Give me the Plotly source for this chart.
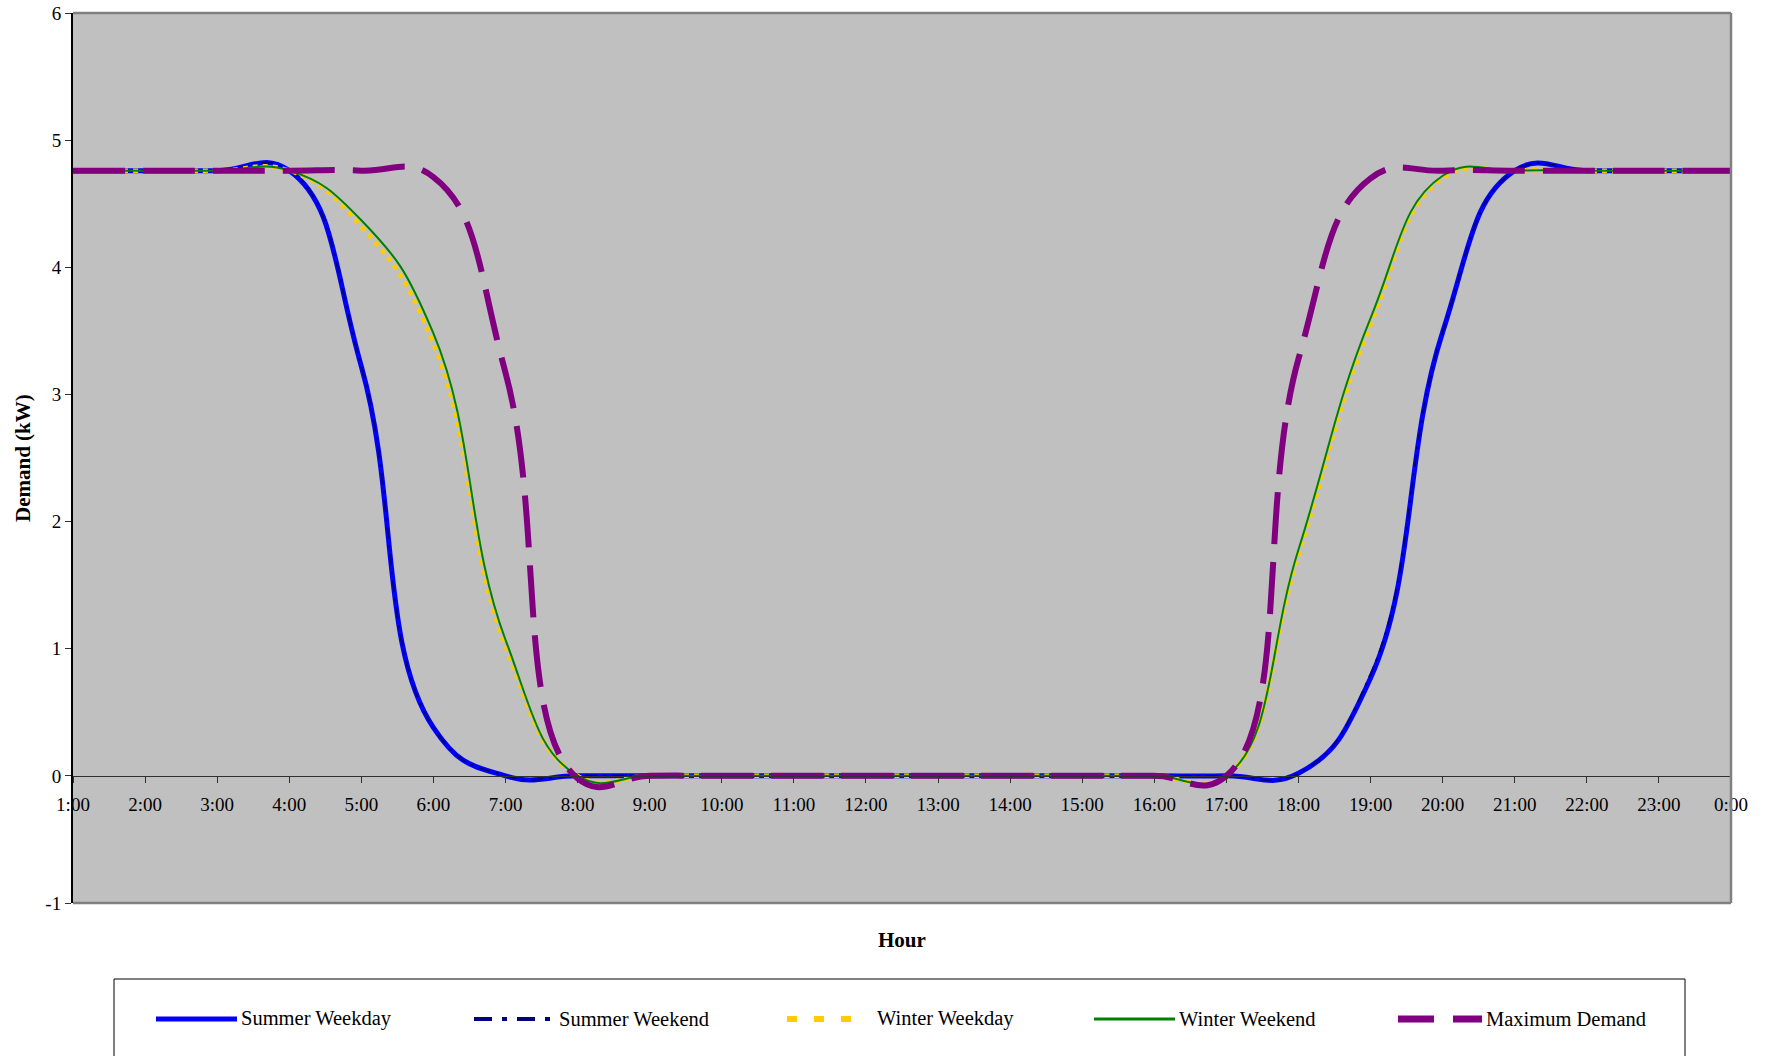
import plotly.graph_objects as go

# Hourly demand profiles (kW), one value per hour from 1:00 to 0:00
hours = ["1:00", "2:00", "3:00", "4:00", "5:00", "6:00", "7:00", "8:00",
         "9:00", "10:00", "11:00", "12:00", "13:00", "14:00", "15:00", "16:00",
         "17:00", "18:00", "19:00", "20:00", "21:00", "22:00", "23:00", "0:00"]

summer_weekday = [4.76, 4.76, 4.76, 4.76, 3.22, 0.38, 0.00, 0.00,
                  0.00, 0.00, 0.00, 0.00, 0.00, 0.00, 0.00, 0.00,
                  0.00, 0.02, 0.77, 3.49, 4.76, 4.76, 4.76, 4.76]

summer_weekend = [4.76, 4.76, 4.76, 4.76, 3.22, 0.38, 0.00, 0.00,
                  0.00, 0.00, 0.00, 0.00, 0.00, 0.00, 0.00, 0.00,
                  0.00, 0.02, 0.80, 3.49, 4.76, 4.76, 4.76, 4.76]

winter_weekday = [4.76, 4.76, 4.76, 4.76, 4.32, 3.40, 1.02, 0.00,
                  0.00, 0.00, 0.00, 0.00, 0.00, 0.00, 0.00, 0.00,
                  0.00, 1.74, 3.55, 4.70, 4.76, 4.76, 4.76, 4.76]

winter_weekend = [4.76, 4.76, 4.76, 4.76, 4.37, 3.48, 1.07, 0.00,
                  0.00, 0.00, 0.00, 0.00, 0.00, 0.00, 0.00, 0.00,
                  0.00, 1.78, 3.60, 4.72, 4.76, 4.76, 4.76, 4.76]

maximum_demand = [4.76, 4.76, 4.76, 4.76, 4.76, 4.71, 3.17, -0.02,
                  0.00, 0.00, 0.00, 0.00, 0.00, 0.00, 0.00, 0.00,
                  0.00, 3.28, 4.70, 4.76, 4.76, 4.76, 4.76, 4.76]

series_names = ["Summer Weekday", "Summer Weekend", "Winter Weekday",
                "Winter Weekend", "Maximum Demand"]
series_values = [summer_weekday, summer_weekend, winter_weekday,
                 winter_weekend, maximum_demand]

y_ticks = [-1, 0, 1, 2, 3, 4, 5, 6]
y_tick_labels = ["-1", "0", "1", "2", "3", "4", "5", "6"]

# Line styling per series: (colour, width, dash in plot, legend width, legend dash)
styles = [
    ("#0000FF", 5, "solid", 5, "solid"),
    ("#000080", 2, "12px,6px,3px,6px", 4, "18px,10px,5px,10px"),
    ("#FFCC00", 4.5, "5px,5px", 6, "10px,17px"),
    ("#008000", 2, "solid", 3, "solid"),
    ("#800080", 6, "52px,18px", 7, "36px,19px"),
]

FONT = "Liberation Serif"
W, H = 1771, 1056
ML, MR, MT, MB = 73, 40, 13, 153
PW, PH = W - ML - MR, H - MT - MB


def px_x(p):
    return (p - ML) / PW


def px_y(p):
    return (H - MB - p) / PH


fig = go.Figure()

for name, vals, (col, wid, dash, _, _) in zip(series_names, series_values, styles):
    fig.add_trace(go.Scatter(
        x=hours, y=vals, name=name, mode="lines",
        line=dict(color=col, width=wid, dash=dash, shape="spline", smoothing=1.3),
        showlegend=False, hoverinfo="skip",
    ))

ymin, ymax = y_ticks[0], y_ticks[-1]
x_axis_pos = (0 - ymin) / (ymax - ymin)

fig.update_layout(
    width=W, height=H,
    margin=dict(l=ML, r=MR, t=MT, b=MB, pad=0),
    paper_bgcolor="white",
    plot_bgcolor="#C0C0C0",
    font=dict(family=FONT, size=19, color="black"),
    xaxis=dict(
        type="category", categoryorder="array", categoryarray=hours,
        range=[0, len(hours) - 1], automargin=False,
        anchor="free", position=x_axis_pos,
        showline=True, linecolor="#303030", linewidth=1,
        ticks="outside", ticklen=6, tickcolor="#303030", tickwidth=1,
        ticklabelstandoff=5,
        showgrid=False, zeroline=False,
        tickfont=dict(family=FONT, size=19, color="black"),
    ),
    xaxis2=dict(
        overlaying="x", anchor="free", position=x_axis_pos, automargin=False,
        range=[0, len(hours) - 1], tickvals=list(range(len(hours))),
        ticks="inside", ticklen=6, tickcolor="#303030", tickwidth=1,
        showticklabels=False, showline=False, showgrid=False, zeroline=False,
    ),
    yaxis=dict(
        range=[ymin, ymax], tickvals=y_ticks, ticktext=y_tick_labels,
        automargin=False,
        showline=True, linecolor="black", linewidth=2,
        ticks="outside", ticklen=6, tickcolor="#303030", tickwidth=1,
        showgrid=False, zeroline=False,
        tickfont=dict(family=FONT, size=19, color="black"),
    ),
    yaxis2=dict(
        overlaying="y", anchor="free", position=0, automargin=False,
        range=[ymin, ymax], tickvals=y_ticks,
        ticks="inside", ticklen=6, tickcolor="#303030", tickwidth=1,
        showticklabels=False, showline=False, showgrid=False, zeroline=False,
    ),
)

shapes = [
    # plot frame: top, right, bottom
    dict(type="line", xref="paper", yref="paper", x0=0, x1=1, y0=1, y1=1,
         line=dict(color="#808080", width=2.5)),
    dict(type="line", xref="paper", yref="paper", x0=1, x1=1, y0=0, y1=1,
         line=dict(color="#808080", width=2.5)),
    dict(type="line", xref="paper", yref="paper", x0=0, x1=1, y0=0, y1=0,
         line=dict(color="#808080", width=2.5)),
    # legend box
    dict(type="rect", xref="paper", yref="paper",
         x0=px_x(114), x1=px_x(1685), y0=px_y(1080), y1=px_y(979),
         line=dict(color="black", width=1), fillcolor="white", layer="below"),
]

legend_samples = [(156, 237, 239), (474, 551, 557), (787, 863, 875),
                  (1094, 1175, 1177), (1398, 1482, 1484)]
legend_y = 1019
annotations = []
for name, (s0, s1, tx), (col, _, _, lw, ldash) in zip(series_names, legend_samples, styles):
    shapes.append(dict(type="line", xref="paper", yref="paper",
                       x0=px_x(s0), x1=px_x(s1), y0=px_y(legend_y), y1=px_y(legend_y),
                       line=dict(color=col, width=lw, dash=ldash)))
    annotations.append(dict(text=name, xref="paper", yref="paper",
                            x=px_x(tx), y=px_y(legend_y), xanchor="left", yanchor="middle",
                            showarrow=False, font=dict(family=FONT, size=20.5, color="black")))

annotations.append(dict(text="Hour", xref="paper", yref="paper",
                        x=px_x(902), y=px_y(940), xanchor="center", yanchor="middle",
                        showarrow=False,
                        font=dict(family=FONT, size=21, color="black", weight="bold")))
annotations.append(dict(text="Demand (kW)", xref="paper", yref="paper",
                        x=px_x(23), y=px_y(458), xanchor="center", yanchor="middle",
                        textangle=-90, showarrow=False,
                        font=dict(family=FONT, size=21, color="black", weight="bold")))

fig.update_layout(shapes=shapes, annotations=annotations)

fig.write_html("out.html")
